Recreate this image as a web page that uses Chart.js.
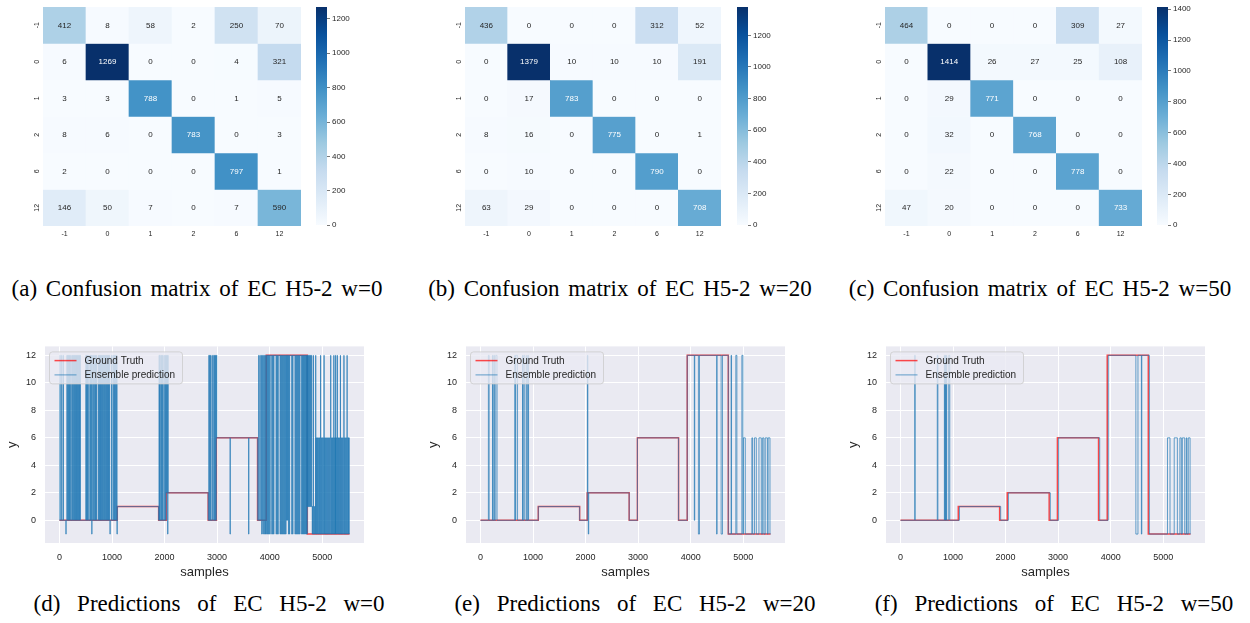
<!DOCTYPE html>
<html>
<head>
<meta charset="utf-8">
<script src="https://cdn.jsdelivr.net/npm/chart.js@4.4.1/dist/chart.umd.min.js"></script>
<style>
  body { margin: 0; width: 1250px; height: 623px; background: #fff; position: relative; overflow: hidden; }
  canvas { position: absolute; }
  .cap { position: absolute; font-family: "Liberation Serif", "Times New Roman", serif; font-size: 23px; line-height: 23px;
         color: #000; white-space: nowrap; transform: translateX(-50%); word-spacing: 3px; }
  .cap.wide { word-spacing: 11px; }
</style>
</head>
<body>
<div class="cap" style="left:197px; top:277px">(a) Confusion matrix of EC H5-2 w=0</div>
<div class="cap" style="left:620px; top:277px">(b) Confusion matrix of EC H5-2 w=20</div>
<div class="cap" style="left:1040px; top:277px">(c) Confusion matrix of EC H5-2 w=50</div>
<div class="cap wide" style="left:209px; top:592px">(d) Predictions of EC H5-2 w=0</div>
<div class="cap wide" style="left:635px; top:592px">(e) Predictions of EC H5-2 w=20</div>
<div class="cap wide" style="left:1054px; top:592px">(f) Predictions of EC H5-2 w=50</div>
<script>
// ---- data ----
const classLabels = ['-1', '0', '1', '2', '6', '12'];

const cmW0 = [
  [412, 8, 58, 2, 250, 70],
  [6, 1269, 0, 0, 4, 321],
  [3, 3, 788, 0, 1, 5],
  [8, 6, 0, 783, 0, 3],
  [2, 0, 0, 0, 797, 1],
  [146, 50, 7, 0, 7, 590]
];
const cmW20 = [
  [436, 0, 0, 0, 312, 52],
  [0, 1379, 10, 10, 10, 191],
  [0, 17, 783, 0, 0, 0],
  [8, 16, 0, 775, 0, 1],
  [0, 10, 0, 0, 790, 0],
  [63, 29, 0, 0, 0, 708]
];
const cmW50 = [
  [464, 0, 0, 0, 309, 27],
  [0, 1414, 26, 27, 25, 108],
  [0, 29, 771, 0, 0, 0],
  [0, 32, 0, 768, 0, 0],
  [0, 22, 0, 0, 778, 0],
  [47, 20, 0, 0, 0, 733]
];
const cbarTicksW0 = [0, 200, 400, 600, 800, 1000, 1200];
const cbarTicksW20 = [0, 200, 400, 600, 800, 1000, 1200];
const cbarTicksW50 = [0, 200, 400, 600, 800, 1000, 1200, 1400];

const sampleTicks = [0, 1000, 2000, 3000, 4000, 5000];
const yTicks = [0, 2, 4, 6, 8, 10, 12];
const lastSample = 5520;

// ground truth: [start sample, class]
const groundTruth = [[0, 0], [1100, 1], [1887, 0], [2032, 2], [2830, 0], [2987, 6], [3770, 0], [3935, 12], [4717, -1]];
// w=50 prediction follows the truth a little late
const predBaseW50 = [[0, 0], [1122, 1], [1907, 0], [2054, 2], [2852, 0], [3009, 6], [3792, 0], [3955, 12], [4737, -1]];

// w=0: short bursts (start sample) to a wrong class
const burstsW0To12 = [8, 40, 70, 140, 157, 174, 190, 212, 236, 253, 271, 288, 306, 323, 341, 358, 376, 392,
  501, 517, 531, 556, 583, 601, 619, 645, 668, 684, 704,
  740, 757, 775, 792, 810, 827, 845, 862, 880, 897, 915, 932, 950, 990, 1018, 1038, 1055, 1073, 1090,
  1895, 1908, 1930, 1947, 1964, 1990, 2012, 2030, 2047, 2062,
  2842, 2859, 2876, 2905, 2935, 2952, 2970, 2988,
  3790, 3815, 3840, 3862, 3885, 3905, 3925,
  4722, 4740, 4758, 4776, 4796, 4832, 4872, 4937, 4969, 5032, 5063, 5158, 5189, 5221, 5252, 5284, 5316, 5347, 5410, 5474];
const dipsW0ToNeg1 = [121, 613, 960, 1094, 2058, 3246, 3599, 3848, 3872, 3893, 3914, 3930,
  3950, 3968, 3986, 4004, 4040, 4058, 4076, 4122, 4140, 4158, 4198, 4216, 4234, 4252, 4270, 4288, 4306,
  4358, 4376, 4420, 4438, 4482, 4500, 4518, 4536, 4554, 4572, 4608, 4626, 4644, 4662, 4680, 4698, 4710];
const dipsW0To0 = [4322, 4340];
const togglesW0To1 = [4815, 4833, 4851, 4866];
const togglesW0To6 = [4880, 4899, 4916, 4935, 4952, 4971, 4988, 5007, 5024, 5043, 5060, 5079, 5096, 5115, 5132,
  5151, 5168, 5187, 5204, 5223, 5240, 5259, 5276, 5295, 5312, 5331, 5348, 5367, 5384, 5403, 5420, 5439,
  5456, 5475, 5492, 5506];
const blockW0 = [[4717, 4811, 1]];

// w=20 / w=50: [start, end, predicted class] where prediction is wrong
const errorsW20 = [[150, 165, 12], [228, 235, 12], [255, 265, 12], [290, 315, 12],
  [654, 660, 12], [672, 705, 12], [800, 806, 12], [825, 845, 12], [880, 886, 12], [905, 915, 12],
  [2036, 2043, 12], [2052, 2060, -1],
  [4070, 4078, 0], [4148, 4168, -1], [4495, 4503, -1], [4580, 4606, -1],
  [4770, 4778, 12], [4860, 4880, 12], [4975, 4995, 12],
  [5006, 5040, 6], [5165, 5180, 6], [5215, 5250, 6], [5300, 5345, 6], [5370, 5395, 6], [5420, 5460, 6], [5475, 5510, 6]];
const errorsW50 = [[270, 280, 12], [700, 712, 12], [835, 842, 12], [855, 862, 12], [872, 880, 12], [918, 938, 12],
  [4480, 4520, -1], [4585, 4593, -1],
  [5082, 5130, 6], [5210, 5270, 6], [5318, 5345, 6], [5365, 5410, 6], [5440, 5452, 6], [5478, 5512, 6]];

// ---- drawing ----
const FONT = '"Liberation Sans", Arial, sans-serif';
const INK = '#262626';
const BLUES = [[247,251,255],[222,235,247],[198,219,239],[158,202,225],[107,174,214],[66,146,198],[33,113,181],[8,81,156],[8,48,107]];

function blues(t) {
  t = Math.max(0, Math.min(1, t));
  const p = t * 8, i = Math.min(7, Math.floor(p)), f = p - i;
  return BLUES[i].map((v, k) => Math.round(v + (BLUES[i + 1][k] - v) * f));
}
function rgb(c) { return 'rgb(' + c.join(',') + ')'; }
function luminance(c) {
  const l = c.map(v => { v /= 255; return v <= 0.03928 ? v / 12.92 : Math.pow((v + 0.055) / 1.055, 2.4); });
  return 0.2126 * l[0] + 0.7152 * l[1] + 0.0722 * l[2];
}

function placeCanvas(left, top, width, height) {
  const cv = document.createElement('canvas');
  cv.width = width; cv.height = height;
  cv.style.left = left + 'px'; cv.style.top = top + 'px';
  document.body.appendChild(cv);
  return cv;
}

function heatmap(matrix, cbarTicks, box, cbarLeft) {
  const vmax = Math.max(...matrix.flat());
  const w = box.right - box.left;
  const cv = placeCanvas(box.left - 22, 0, w + 24, box.bottom + 22);
  const cellText = {
    id: 'cellText',
    afterDatasetsDraw(chart) {
      const c = chart.ctx;
      c.save();
      c.font = '8px ' + FONT;
      c.textAlign = 'center';
      c.textBaseline = 'middle';
      chart.data.datasets.forEach((ds, r) => {
        chart.getDatasetMeta(r).data.forEach((bar, j) => {
          const v = ds.counts[j];
          c.fillStyle = luminance(blues(v / vmax)) > 0.408 ? INK : '#ffffff';
          c.fillText(String(v), bar.x, (bar.y + bar.base) / 2 + 0.5);
        });
      });
      c.restore();
    }
  };
  new Chart(cv, {
    type: 'bar',
    data: {
      labels: classLabels,
      datasets: matrix.map((row, r) => ({
        data: row.map(() => [r, r + 1]),
        counts: row,
        backgroundColor: row.map(v => rgb(blues(v / vmax))),
        borderWidth: 0,
        grouped: false,
        barPercentage: 1,
        categoryPercentage: 1
      }))
    },
    options: {
      responsive: false,
      animation: false,
      layout: { padding: { top: box.top, right: 2, left: 0, bottom: 0 } },
      plugins: { legend: { display: false }, tooltip: { enabled: false } },
      scales: {
        x: {
          grid: { display: false, drawTicks: false }, border: { display: false },
          ticks: { font: { size: 7, family: FONT }, color: INK, padding: 4 },
          afterFit: s => { s.height = 22; }
        },
        y: {
          min: 0, max: 6, reverse: true,
          grid: { display: false, drawTicks: false }, border: { display: false },
          afterBuildTicks: s => { s.ticks = classLabels.map((l, i) => ({ value: i + 0.5 })); },
          ticks: { callback: (v, i) => classLabels[i], minRotation: 90, maxRotation: 90, crossAlign: 'center',
                   padding: 2, font: { size: 7, family: FONT }, color: INK },
          afterFit: s => { s.width = 22; }
        }
      }
    },
    plugins: [cellText]
  });

  // colour bar
  const cb = placeCanvas(cbarLeft, 0, 11 + 40, box.bottom + 6);
  new Chart(cb, {
    type: 'bar',
    data: {
      labels: [''],
      datasets: [{
        data: [[0, vmax]],
        borderWidth: 0, barPercentage: 1, categoryPercentage: 1,
        backgroundColor: ctx => {
          const a = ctx.chart.chartArea;
          if (!a) return BLUES[0];
          const g = ctx.chart.ctx.createLinearGradient(0, a.bottom, 0, a.top);
          BLUES.forEach((c, k) => g.addColorStop(k / 8, rgb(c)));
          return g;
        }
      }]
    },
    options: {
      responsive: false,
      animation: false,
      layout: { padding: { top: box.top, right: 0, left: 0, bottom: 6 } },
      plugins: { legend: { display: false }, tooltip: { enabled: false } },
      scales: {
        x: { display: false },
        y: {
          position: 'right', min: 0, max: vmax,
          afterBuildTicks: s => { s.ticks = cbarTicks.map(v => ({ value: v })); },
          grid: { drawOnChartArea: false, drawTicks: true, tickLength: 3, tickColor: '#555', tickWidth: 0.8 },
          border: { display: false },
          ticks: { callback: v => String(v), padding: 2, font: { size: 8, family: FONT }, color: INK },
          afterFit: s => { s.width = 40; }
        }
      }
    }
  });
}

function stepSeries(base, runs, end) {
  const xs = [...new Set([...base.map(p => p[0]), ...runs.flatMap(r => [r[0], r[1]])])]
    .filter(x => x < end).sort((a, b) => a - b);
  const valueAt = x => {
    let v = base[0][1];
    for (const [bx, by] of base) if (bx <= x) v = by;
    for (const [a, b, y] of runs) if (x >= a && x < b) v = y;
    return v;
  };
  const pts = xs.map(x => ({ x, y: valueAt(x) }));
  pts.push({ x: end, y: pts[pts.length - 1].y });
  return pts;
}

const plotBg = {
  id: 'plotBg',
  beforeDraw(chart) {
    const a = chart.chartArea, c = chart.ctx;
    c.save(); c.fillStyle = '#EAEAF2'; c.fillRect(a.left, a.top, a.right - a.left, a.bottom - a.top); c.restore();
  }
};
const legendBox = {
  id: 'legendBox',
  afterDraw(chart) {
    const a = chart.chartArea, c = chart.ctx;
    const x = a.left + 4.5, y = a.top + 5.5, w = 133, h = 32, r = 3;
    c.save();
    c.beginPath();
    c.roundRect(x, y, w, h, r);
    c.fillStyle = 'rgba(234,234,242,0.8)';
    c.fill();
    c.strokeStyle = 'rgba(204,204,204,0.8)';
    c.lineWidth = 1;
    c.stroke();
    c.font = '10px ' + FONT;
    c.textBaseline = 'middle';
    c.fillStyle = INK;
    [0, 1].forEach(i => {
      const ds = chart.data.datasets[i];
      const ly = y + 8.7 + i * 14.3;
      c.beginPath();
      c.moveTo(x + 5, ly); c.lineTo(x + 27, ly);
      c.strokeStyle = ds.borderColor; c.lineWidth = ds.borderWidth;
      c.stroke();
      c.fillText(ds.label, x + 35, ly + 0.5);
    });
    c.restore();
  }
};

function predPlot(plotLeft, base, runs) {
  const cv = placeCanvas(plotLeft - 45, 332, 45 + 319 + 6, 5 + 206 + 40);
  new Chart(cv, {
    type: 'line',
    data: {
      datasets: [
        { label: 'Ground Truth', data: stepSeries(groundTruth, [], lastSample), borderColor: 'rgba(255,0,0,0.7)',
          borderWidth: 1.5, stepped: true, pointRadius: 0, order: 1 },
        { label: 'Ensemble prediction', data: stepSeries(base, runs, lastSample), borderColor: 'rgba(31,119,180,0.68)',
          borderWidth: 1, stepped: true, pointRadius: 0, order: 0 }
      ]
    },
    options: {
      responsive: false,
      animation: false,
      parsing: false,
      layout: { padding: { top: 5, right: 6, left: 0, bottom: 0 } },
      plugins: { legend: { display: false }, tooltip: { enabled: false } },
      scales: {
        x: {
          type: 'linear', min: -276, max: 5796,
          afterBuildTicks: s => { s.ticks = sampleTicks.map(v => ({ value: v })); },
          grid: { color: '#ffffff', lineWidth: 1, drawTicks: false },
          border: { display: false },
          ticks: { callback: v => String(v), padding: 9, font: { size: 9, family: FONT }, color: INK },
          title: { display: true, text: 'samples', font: { size: 13, family: FONT }, color: INK, padding: { top: 0, bottom: 3 } },
          afterFit: s => { s.height = 40; }
        },
        y: {
          min: -1.65, max: 12.65,
          afterBuildTicks: s => { s.ticks = yTicks.map(v => ({ value: v })); },
          grid: { color: '#ffffff', lineWidth: 1, drawTicks: false },
          border: { display: false },
          ticks: { callback: v => String(v), padding: 9, font: { size: 9, family: FONT }, color: INK },
          title: { display: true, text: 'y', font: { size: 13, family: FONT }, color: INK, padding: { top: 5, bottom: 0 } },
          afterFit: s => { s.width = 45; }
        }
      }
    },
    plugins: [plotBg, legendBox]
  });
}

heatmap(cmW0, cbarTicksW0, { left: 43, right: 301, top: 7, bottom: 226 }, 316);
heatmap(cmW20, cbarTicksW20, { left: 465, right: 721, top: 7, bottom: 226 }, 737);
heatmap(cmW50, cbarTicksW50, { left: 885, right: 1142, top: 7, bottom: 226 }, 1157);

const runsW0 = blockW0
  .concat(burstsW0To12.map(x => [x, x + 6, 12]))
  .concat(dipsW0ToNeg1.map(x => [x, x + 6, -1]))
  .concat(dipsW0To0.map(x => [x, x + 6, 0]))
  .concat(togglesW0To6.map(x => [x, x + 10, 6]))
  .concat(togglesW0To1.map(x => [x, x + 10, 1]));

predPlot(45, groundTruth, runsW0);
predPlot(466, groundTruth, errorsW20);
predPlot(886, predBaseW50, errorsW50);
</script>
</body>
</html>
